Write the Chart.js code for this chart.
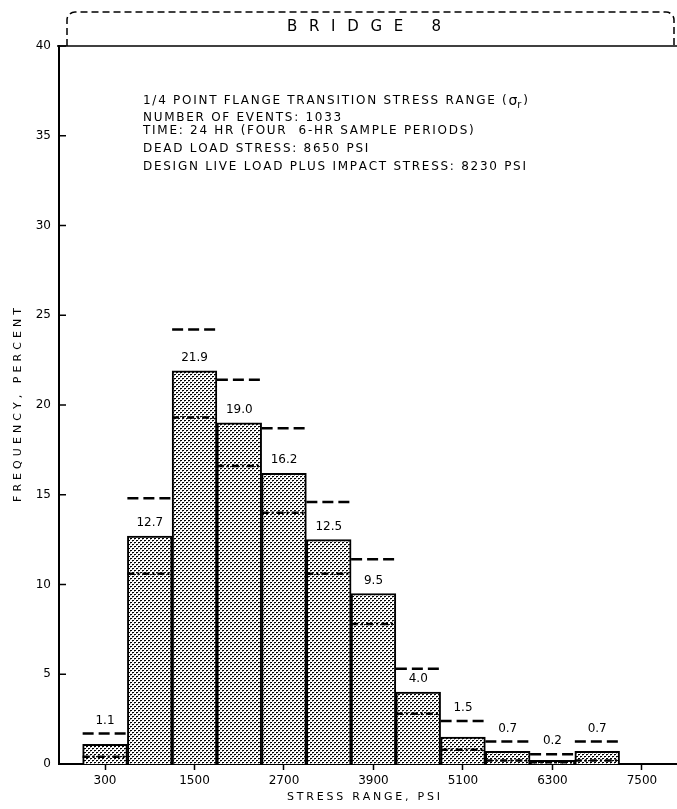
<!DOCTYPE html>
<html>
<head>
<meta charset="utf-8">
<title>Bridge 8 stress range histogram</title>
<script src="https://cdn.jsdelivr.net/npm/chart.js@4/dist/chart.umd.min.js"></script>
<style>
  html, body { margin: 0; padding: 0; background: #fff; }
  #wrap { width: 677px; height: 809px; }
</style>
</head>
<body>
<div id="wrap"><canvas id="chart" width="677" height="809"></canvas></div>
<script>
// Stress-range bins (psi) and measured frequency (percent)
const binCenters = [300, 900, 1500, 2100, 2700, 3300, 3900, 4500, 5100, 5700, 6300, 6900];
const binWidth = 600;
const frequency = [1.1, 12.7, 21.9, 19.0, 16.2, 12.5, 9.5, 4.0, 1.5, 0.7, 0.2, 0.7];
// Upper and lower dashed bounds for each bin (percent)
const upperBound = [1.7, 14.8, 24.2, 21.4, 18.7, 14.6, 11.4, 5.3, 2.4, 1.25, 0.55, 1.25];
const lowerBound = [0.4, 10.6, 19.3, 16.6, 14.0, 10.6, 7.8, 2.8, 0.8, 0.2, 0.1, 0.2];
// Axis ticks
const xTickValues = [300, 1500, 2700, 3900, 5100, 6300, 7500];
const yTickValues = [0, 5, 10, 15, 20, 25, 30, 35, 40];
// Text
const chartTitle = 'BRIDGE 8';
const headLine = '1/4 POINT FLANGE TRANSITION STRESS RANGE (';
const noteLines = [
  'NUMBER OF EVENTS: 1033',
  'TIME: 24 HR (FOUR  6-HR SAMPLE PERIODS)',
  'DEAD LOAD STRESS: 8650 PSI',
  'DESIGN LIVE LOAD PLUS IMPACT STRESS: 8230 PSI'
];
const xTitle = 'STRESS RANGE, PSI';
const yTitle = 'FREQUENCY, PERCENT';

const FONT = '"DejaVu Sans", "Liberation Sans", sans-serif';

// Stippled fill for the bars
function stipple() {
  const t = document.createElement('canvas');
  t.width = 4; t.height = 4;
  const g = t.getContext('2d');
  g.fillStyle = '#fff';
  g.fillRect(0, 0, 4, 4);
  g.fillStyle = '#000';
  [[0,0],[1,0],[2,2],[3,2]].forEach(([x, y]) => g.fillRect(x, y, 1, 1));
  g.fillStyle = '#999';
  [[0,1],[2,3]].forEach(([x, y]) => g.fillRect(x, y, 1, 1));
  return g.createPattern(t, 'repeat');
}

// Horizontal segment across each bin, broken between bins
function binSegments(values) {
  const pts = [];
  binCenters.forEach((c, i) => {
    pts.push({ x: c - binWidth / 2, y: values[i] });
    pts.push({ x: c + binWidth / 2, y: values[i] });
    pts.push({ x: c + binWidth / 2, y: null });
  });
  return pts;
}

function naturalWidth(ctx, text) {
  return [...text].reduce((a, ch) => a + ctx.measureText(ch).width, 0);
}

// Draw text letter by letter with a fixed extra gap; returns the end x
function drawWithGap(ctx, text, x, y, gap) {
  let cx = x;
  [...text].forEach(ch => {
    ctx.fillText(ch, cx, y);
    cx += ctx.measureText(ch).width + gap;
  });
  return cx - gap;
}

// Draw text stretched to a given width
function drawSpaced(ctx, text, x, y, width) {
  const n = [...text].length;
  const gap = n > 1 ? (width - naturalWidth(ctx, text)) / (n - 1) : 0;
  return drawWithGap(ctx, text, x, y, gap);
}

const decorations = {
  id: 'decorations',
  afterDraw(chart) {
    const { ctx, chartArea: area, scales } = chart;
    const y = scales.y, x = scales.x;
    ctx.save();
    ctx.fillStyle = '#000';
    ctx.strokeStyle = '#000';

    // top frame line
    ctx.lineWidth = 1.5;
    ctx.beginPath();
    ctx.moveTo(area.left - 2, area.top);
    ctx.lineTo(chart.width, area.top);
    ctx.stroke();

    // dashed title box
    const bl = 67, br = 674, bt = 12, r = 8;
    ctx.setLineDash([7, 4]);
    ctx.lineWidth = 1.5;
    ctx.beginPath();
    ctx.moveTo(bl, area.top);
    ctx.lineTo(bl, bt + r);
    ctx.arcTo(bl, bt, bl + r, bt, r);
    ctx.lineTo(br - r, bt);
    ctx.arcTo(br, bt, br, bt + r, r);
    ctx.lineTo(br, area.top);
    ctx.stroke();
    ctx.setLineDash([]);

    ctx.font = '15px ' + FONT;
    ctx.textBaseline = 'middle';
    ctx.textAlign = 'left';
    drawSpaced(ctx, chartTitle, 287, 27, 154);

    // inward y ticks
    ctx.lineWidth = 1.5;
    yTickValues.forEach(v => {
      const py = y.getPixelForValue(v);
      ctx.beginPath();
      ctx.moveTo(area.left, py);
      ctx.lineTo(area.left + 7, py);
      ctx.stroke();
    });

    // notes block, one letter pitch for all lines
    ctx.font = '12px ' + FONT;
    ctx.textBaseline = 'middle';
    const ref = noteLines[3];
    const gap = (383 - naturalWidth(ctx, ref)) / ([...ref].length - 1);
    let endX = drawWithGap(ctx, headLine, 143, 101, gap);
    ctx.font = '14px ' + FONT;
    ctx.fillText('\u03C3', endX + gap, 101);
    const sw = ctx.measureText('\u03C3').width;
    ctx.font = '10px ' + FONT;
    ctx.fillText('r', endX + gap + sw, 105);
    const rw = ctx.measureText('r').width;
    ctx.font = '12px ' + FONT;
    ctx.fillText(')', endX + 2 * gap + sw + rw, 101);
    const noteY = [118, 131, 149, 167];
    noteLines.forEach((t, i) => drawWithGap(ctx, t, 143, noteY[i], gap));

    // value labels over bars
    ctx.font = '12px ' + FONT;
    ctx.textAlign = 'center';
    binCenters.forEach((c, i) => {
      const px = x.getPixelForValue(c);
      const top = y.getPixelForValue(frequency[i]);
      const dash = y.getPixelForValue(upperBound[i]);
      const anchor = (top - dash < 22) ? dash : top;
      ctx.fillText(frequency[i].toFixed(1), px, anchor - 13);
    });

    // axis titles
    ctx.font = '11px ' + FONT;
    ctx.textAlign = 'left';
    ctx.textBaseline = 'middle';
    drawSpaced(ctx, xTitle, 287, 797, 153);
    ctx.translate(18, 405);
    ctx.rotate(-Math.PI / 2);
    drawSpaced(ctx, yTitle, -97, 0, 194);
    ctx.restore();
  }
};

new Chart(document.getElementById('chart'), {
  type: 'bar',
  data: {
    datasets: [
      {
        type: 'line',
        data: binSegments(upperBound),
        borderColor: '#000',
        borderWidth: 2.5,
        borderDash: [11, 5],
        pointRadius: 0,
        spanGaps: false,
        order: 1
      },
      {
        type: 'line',
        data: binSegments(lowerBound),
        borderColor: '#000',
        borderWidth: 2.5,
        borderDash: [7, 3, 2, 3],
        pointRadius: 0,
        spanGaps: false,
        order: 2
      },
      {
        type: 'bar',
        data: binCenters.map((c, i) => ({ x: c, y: frequency[i] })),
        backgroundColor: stipple(),
        borderColor: '#000',
        borderWidth: 2,
        barPercentage: 1,
        categoryPercentage: 1,
        order: 3
      }
    ]
  },
  options: {
    responsive: false,
    animation: false,
    devicePixelRatio: 1,
    layout: { padding: { top: 46, left: 0, right: 0, bottom: 0 } },
    plugins: { legend: { display: false }, tooltip: { enabled: false }, title: { display: false } },
    scales: {
      x: {
        type: 'linear',
        offset: false,
        min: -317,
        max: 7970,
        afterBuildTicks: s => { s.ticks = xTickValues.map(v => ({ value: v })); },
        afterFit: s => { s.height = 45; },
        grid: { display: true, offset: false, drawOnChartArea: false, drawTicks: true, tickLength: 6, color: '#000', tickWidth: 1.5 },
        border: { display: true, color: '#000', width: 2 },
        ticks: { color: '#000', font: { family: FONT, size: 12 }, padding: 4, maxRotation: 0, autoSkip: false, callback: v => String(v) }
      },
      y: {
        min: 0,
        max: 40,
        afterBuildTicks: s => { s.ticks = yTickValues.map(v => ({ value: v })); },
        afterFit: s => { s.width = 59; },
        grid: { display: false, drawTicks: false },
        border: { display: true, color: '#000', width: 2 },
        ticks: { color: '#000', font: { family: FONT, size: 12 }, padding: 8 }
      }
    }
  },
  plugins: [decorations]
});
</script>
</body>
</html>
